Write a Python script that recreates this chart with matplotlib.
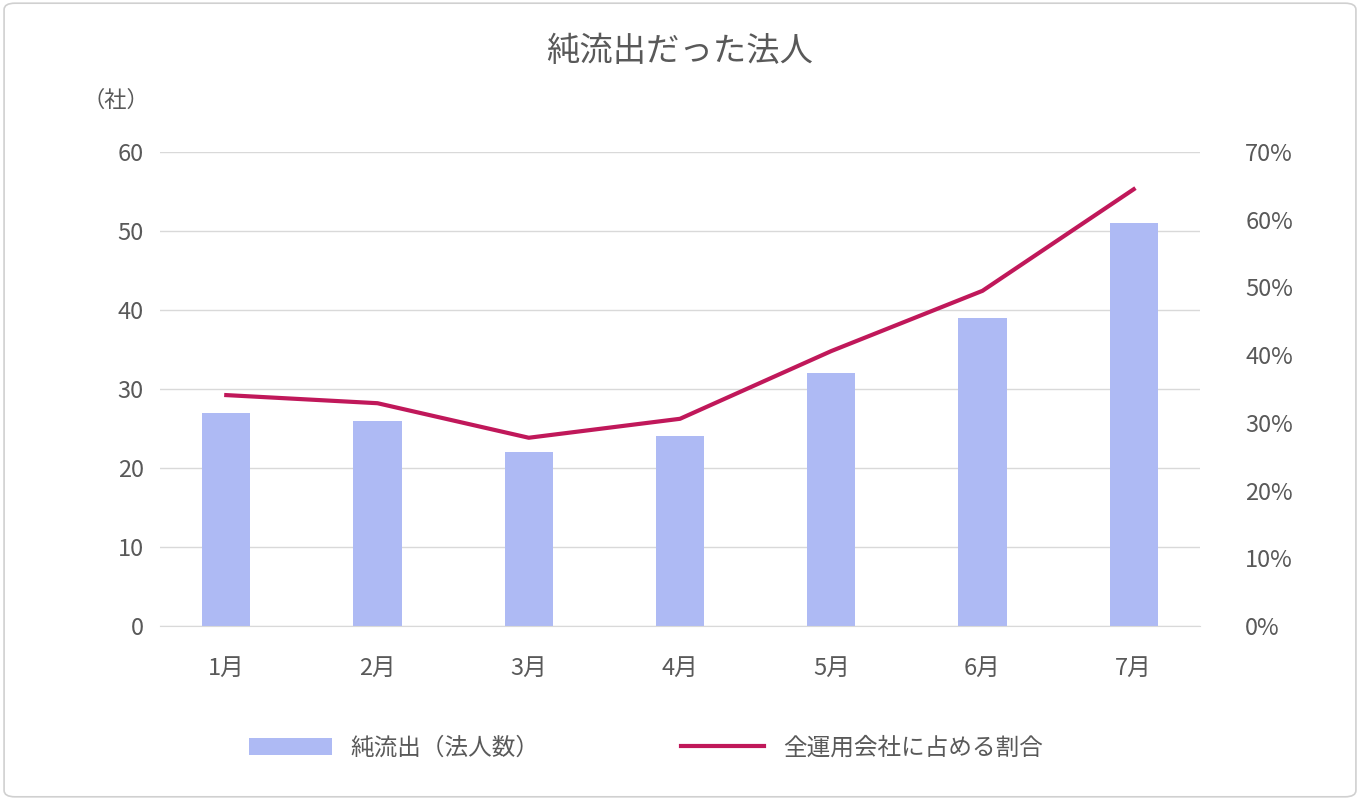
import matplotlib
matplotlib.use("Agg")
import matplotlib.pyplot as plt
from matplotlib.patches import FancyBboxPatch

plt.rcParams["font.family"] = ["Noto Sans CJK JP", "DejaVu Sans"]

months = ["1月", "2月", "3月", "4月", "5月", "6月", "7月"]
net_outflow = [27, 26, 22, 24, 32, 39, 51]
share_pct = [34.1, 32.9, 27.8, 30.6, 40.6, 49.5, 64.5]
left_ticks = [0, 10, 20, 30, 40, 50, 60]
right_ticks = [0, 10, 20, 30, 40, 50, 60, 70]

fig = plt.figure(figsize=(13.6, 8), dpi=100)
fig.patches.append(FancyBboxPatch((0.003, 0.004), 0.994, 0.992, boxstyle="round,pad=0,rounding_size=0.008",
                                  transform=fig.transFigure, fill=False, edgecolor="#d0d0d0", lw=1.2))
ax = fig.add_axes([0.118, 0.2175, 0.764, 0.5925])
x = list(range(len(months)))
ax.bar(x, net_outflow, width=0.32, color="#aebaf4", label="純流出（法人数）", zorder=2)
ax.set_xlim(-0.435, 6.435)
ax.set_ylim(0, 60)
ax.set_yticks(left_ticks)
ax.grid(axis="y", color="#d9d9d9", lw=1, zorder=0)
for s in ["top", "right", "left"]:
    ax.spines[s].set_visible(False)
ax.spines["bottom"].set_color("#d9d9d9")
ax.tick_params(length=0, labelsize=17, colors="#595959", pad=12)
ax.tick_params(axis="x", pad=22)
ax.set_xticks(x)
ax.set_xticklabels(months)

ax2 = ax.twinx()
ax2.plot(x, share_pct, color="#c0185a", lw=3, label="全運用会社に占める割合", zorder=3)
ax2.set_ylim(0, 70)
ax2.set_yticks(right_ticks)
ax2.set_yticklabels([f"{v}%" for v in right_ticks])
for s in ax2.spines.values():
    s.set_visible(False)
ax2.tick_params(length=0, labelsize=17, colors="#595959", pad=33)

fig.text(0.5, 0.935, "純流出だった法人", ha="center", va="center", fontsize=24, color="#595959")
fig.text(0.085, 0.875, "（社）", ha="center", va="center", fontsize=16, color="#595959")

h1, l1 = ax.get_legend_handles_labels()
h2, l2 = ax2.get_legend_handles_labels()
fig.legend(h1 + h2, l1 + l2, loc="center", bbox_to_anchor=(0.475, 0.065), ncol=2, frameon=False,
           fontsize=17, labelcolor="#595959", columnspacing=6, handlelength=3.5)
fig.savefig("out.png", dpi=100)
